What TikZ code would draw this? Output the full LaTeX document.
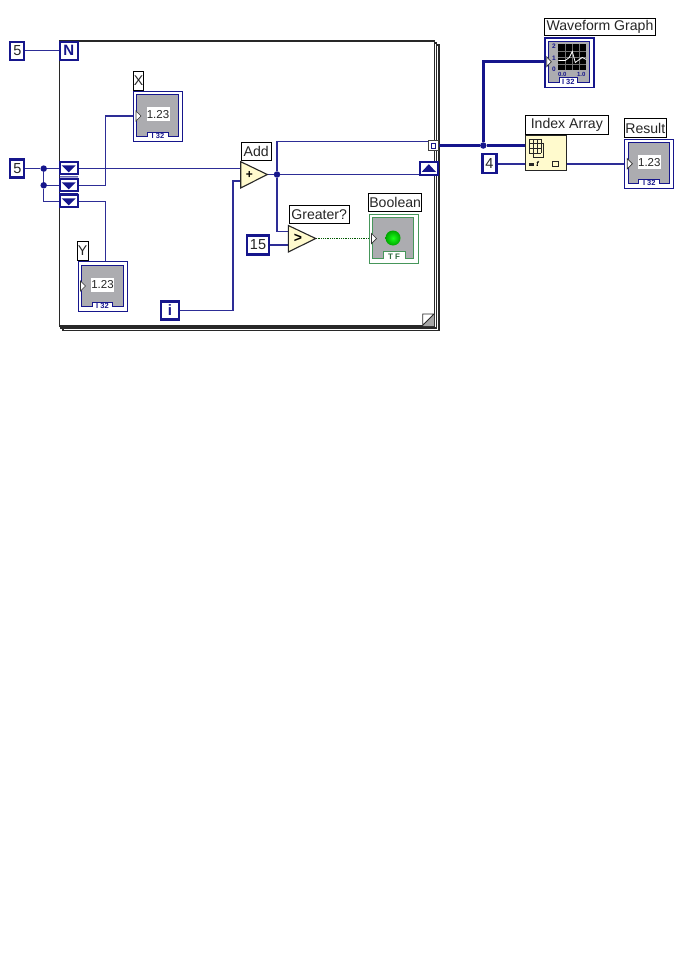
\documentclass[tikz,border=0pt]{standalone}
\usepackage{fontspec}
\setmainfont{Liberation Sans}
\definecolor{navy}{RGB}{22,22,140}
\definecolor{wirec}{RGB}{45,45,150}
\definecolor{grayf}{RGB}{172,172,176}
\definecolor{greenb}{RGB}{70,150,90}
\definecolor{pale}{RGB}{255,250,205}
\definecolor{framec}{RGB}{40,40,40}
\tikzset{
  x=1pt,y=-1pt,
  wire/.style={draw=wirec,line width=1.4pt},
  thickwire/.style={draw=navy,line width=2.6pt},
  boolwire/.style={draw=green!35!black,line width=.8pt,densely dotted},
  constbox/.style={draw=navy,line width=2.3pt,fill=white,inner sep=0pt,font=\fontsize{14.5}{14.5}\selectfont,text=black!85},
  labelbox/.style={draw=black,line width=.9pt,fill=white,inner sep=0pt,font=\fontsize{14.1}{14.1}\selectfont,text=black!85},
  tunnelbox/.style={draw=navy,line width=2.3pt,fill=white,inner sep=0pt,minimum width=18pt,minimum height=12pt},
  junction/.style={circle,fill=navy,inner sep=0pt,minimum size=6.5pt},
  small/.style={inner sep=0pt,font=\fontsize{11.5}{11.5}\selectfont,text=black!85},
  tiny/.style={inner sep=0pt,font=\bfseries\fontsize{7.5}{7.5}\selectfont,text=navy},
  termtip/.style={draw=black!80,fill=white,line width=.7pt},
}
% name, x, y
\newcommand\numindic[4][navy]{%
 \begin{scope}[shift={(#3,#4)}]
  \node[draw=#1,line width=1.1pt,fill=white,inner sep=0pt,minimum width=49pt,minimum height=49.5pt,anchor=north west] (#2) at (0,0) {};
  \fill[grayf,draw=#1,line width=1pt] (3.7,4) -- (45.5,4) -- (45.5,45) -- (35.3,45) -- (35.3,41) -- (14.6,41) -- (14.6,45) -- (3.7,45) -- cycle;
  \node[small,fill=white,minimum width=23pt,minimum height=14pt] (#2txt) at (25,23.5) {1.23};
  \draw[termtip] (3,20) -- (8,25) -- (3,30) -- cycle;
  \node[tiny] (#2typ) at (25,44.5) {I 32};
 \end{scope}}
\begin{document}
\begin{tikzpicture}
\useasboundingbox (0,0) rectangle (682,971);
\fill[white] (0,0) rectangle (682,971);
% loop frame
\draw[framec,fill=white,line width=1.1pt] (63,45) rectangle (439,330.5);
\draw[framec,fill=white,line width=1.1pt] (61,43) rectangle (436.7,328);
\node[draw=framec,line width=1.3pt,fill=white,inner sep=0pt,minimum width=375.3pt,minimum height=285pt,anchor=north west] (loop) at (58.7,40.3) {};
\fill[black!35] (434,314) -- (434,326) -- (422.7,326) -- cycle;
\draw[framec,line width=.9pt] (422.7,325.3) -- (422.7,314) -- (434,314) (422.7,325.3) -- (434,314);
% junctions and named bends
\node[junction] (ja) at (43.7,168.6) {};
\node[junction] (jb) at (43.7,185.3) {};
\coordinate (jc) at (43.7,201.3);
\node[junction] (jd) at (277,174.5) {};
\node[junction] (je) at (483.3,145.5) {};
\coordinate (xbend) at (105.3,0);
\coordinate (ibend) at (233,0);
\coordinate (tunin) at (428.3,141.3);
\coordinate (addtip) at (267.3,174.5);
\coordinate (addia) at (241,168.6);
\coordinate (addib) at (241,181);
\coordinate (gttip) at (315.7,238.5);
\coordinate (gtia) at (288.5,231.7);
\coordinate (gtib) at (288.5,245);
\coordinate (iain) at (525.5,145.5);
\coordinate (iaout) at (566.5,163.8);
\coordinate (iaidx) at (525.5,163.8);
\coordinate (wiin) at (546.3,61.7);
\coordinate (xiin) at (136,116);
\coordinate (yitop) at (105.3,261);
\coordinate (riin) at (627.3,163.8);
\coordinate (biin) at (371.5,238.5);
\coordinate (srin) at (420,174.5);
% constants and loop terminals
\node[constbox,minimum width=14pt,minimum height=18pt] (cfive) at (17.3,50.7) {5};
\node[constbox,minimum width=18pt,minimum height=18pt,font=\bfseries\fontsize{15}{15}\selectfont,text=navy] (N) at (68.7,50.7) {N};
\node[constbox,minimum width=14pt,minimum height=18pt] (cinit) at (17.3,168.6) {5};
\node[constbox,minimum width=18pt,minimum height=18pt,font=\bfseries\fontsize{15}{15}\selectfont,text=navy] (iter) at (170,310.5) {i};
\node[constbox,minimum width=22pt,minimum height=19pt] (cfifteen) at (258,245) {15};
\node[constbox,minimum width=14pt,minimum height=19pt] (cfour) at (489.5,163.8) {4};
% wires
\draw[wire] (cfive.east) -- (N.west);
\draw[wire] (cinit.east) -- (ja);
\draw[wire] (ja) -- (jb) -- (jc) -- (59,201.3);
\draw[wire] (ja) -- (59,168.6);
\draw[wire] (jb) -- (59,185.3);
\draw[wire] (78,168.6) -- (addia);
\draw[wire] (78,185.3) -| (xbend |- xiin) -- (xiin);
\draw[wire] (78,201.3) -| (yitop);
\draw[wire] (iter.east) -| (ibend |- addib) -- (addib);
\draw[wire] (addtip) -- (jd) -- (srin);
\draw[wire] (jd) |- (tunin);
\draw[wire] (jd) |- (gtia);
\draw[wire] (cfifteen.east) -- (gtib);
\draw[boolwire] (gttip) -- (biin);
\draw[thickwire] (438,145.5) -- (je) -- (iain);
\draw[thickwire] (je) |- (wiin);
\draw[wire] (cfour.east) -- (iaidx);
\draw[wire] (iaout) -- (riin);
% shift registers
\node[tunnelbox] (sa) at (68.7,168.3) {};
\node[tunnelbox] (sb) at (68.7,185.3) {};
\node[tunnelbox] (sc) at (68.7,201.3) {};
\fill[navy] (59,176.3) rectangle (78,177.3) (59,193) rectangle (78,194);
\foreach \n in {sa,sb,sc}{\fill[navy] ([xshift=-7pt,yshift=3pt]\n.center) -- ([xshift=7pt,yshift=3pt]\n.center) -- ([yshift=-4pt]\n.center) -- cycle;}
\node[tunnelbox,minimum height=13pt,anchor=center] (sr) at (428.8,168.4) {};
\fill[navy] ([xshift=-7pt,yshift=-3.4pt]sr.center) -- ([xshift=7pt,yshift=-3.4pt]sr.center) -- ([yshift=4.2pt]sr.center) -- cycle;
\node[draw=black!75,line width=1pt,fill=white,inner sep=0pt,minimum width=10pt,minimum height=10pt] (tun) at (433.3,145.5) {};
\draw[navy,line width=.9pt] ([xshift=-1.7pt,yshift=-2.5pt]tun.center) rectangle ([xshift=1.7pt,yshift=2.5pt]tun.center);
% add / greater
\fill[pale,draw=black!85,line width=1.1pt] (240.7,161.7) -- (addtip) -- (240.7,188) -- cycle;
\node[inner sep=0pt,font=\bfseries\fontsize{12}{12}\selectfont] (addg) at (249.5,175) {+};
\node[labelbox,minimum width=30pt,minimum height=18pt] (addl) at (256.2,151) {Add};
\fill[pale,draw=black!85,line width=1.1pt] (288.3,225.5) -- (gttip) -- (288.3,252) -- cycle;
\node[inner sep=0pt,font=\bfseries\fontsize{14}{14}\selectfont] (gtg) at (298,238.5) {>};
\node[labelbox,minimum width=60.5pt,minimum height=18pt] (gtl) at (319.2,214.5) {Greater?};
% indicators
\node[labelbox,minimum width=10.5pt,minimum height=19pt] (xl) at (138.5,80.7) {X};
\numindic{xi}{133}{91}
\node[labelbox,minimum width=10.5pt,minimum height=19pt] (yl) at (82.7,250.7) {Y};
\numindic{yi}{77.5}{261}
\node[labelbox,minimum width=42pt,minimum height=19pt] (rl) at (645.3,128.2) {Result};
\numindic{ri}{624.3}{138.8}
% boolean
\node[labelbox,minimum width=53pt,minimum height=18pt] (bl) at (395.2,202.8) {Boolean};
\begin{scope}[shift={(368.5,213.5)}]
 \node[draw=greenb,line width=1.2pt,fill=white,inner sep=0pt,minimum width=49pt,minimum height=49pt,anchor=north west] (bi) at (0,0) {};
 \fill[grayf,draw=greenb,line width=1pt] (4,4) -- (45,4) -- (45,45) -- (37,45) -- (37,38) -- (15,38) -- (15,45) -- (4,45) -- cycle;
 \shade[inner color=green!90!white,outer color=green!65!black] (24.5,24.5) circle (7.5pt);
 \draw[termtip] (3,20) -- (8,25) -- (3,30) -- cycle;
 \node[inner sep=0pt,font=\bfseries\fontsize{8}{8}\selectfont,text=greenb!70!black] (btyp) at (25.5,43.5) {T F};
\end{scope}
% waveform graph
\node[labelbox,minimum width=111pt,minimum height=17.5pt] (wl) at (600,27.2) {Waveform Graph};
\begin{scope}[shift={(544.3,37.5)}]
 \node[draw=navy,line width=1.2pt,fill=white,inner sep=0pt,minimum width=49pt,minimum height=49.5pt,anchor=north west] (wi) at (0,0) {};
 \fill[grayf,draw=navy,line width=1pt] (4,4) -- (45,4) -- (45,45) -- (33,45) -- (33,40) -- (15,40) -- (15,45) -- (4,45) -- cycle;
 \fill[black] (14,7) rectangle (42,33);
 \foreach \gx in {21,28,35}{\draw[black!55,line width=.5pt] (\gx,7) -- (\gx,33);}
 \foreach \gy in {13.5,20,26.5}{\draw[black!55,line width=.5pt] (14,\gy) -- (42,\gy);}
 \draw[white,line width=.8pt] (14,23) -- (21,23) -- (25,20) -- (28,14) -- (31,25) -- (35,22) -- (38,20) -- (42,22);
 \node[inner sep=0pt,font=\bfseries\fontsize{6.5}{6.5}\selectfont,text=navy] (wy2) at (9.5,9) {2};
 \node[inner sep=0pt,font=\bfseries\fontsize{6.5}{6.5}\selectfont,text=navy] (wy1) at (9.5,21) {1};
 \node[inner sep=0pt,font=\bfseries\fontsize{6.5}{6.5}\selectfont,text=navy] (wy0) at (9.5,32) {0};
 \node[inner sep=0pt,font=\bfseries\fontsize{6}{6}\selectfont,text=navy] (wxa) at (18,37) {0.0};
 \node[inner sep=0pt,font=\bfseries\fontsize{6}{6}\selectfont,text=navy] (wxb) at (37,37) {1.0};
 \node[tiny] (wtyp) at (24,44.5) {I 32};
 \draw[termtip] (2.5,19.5) -- (7,24.2) -- (2.5,29) -- cycle;
\end{scope}
% index array
\node[labelbox,minimum width=83pt,minimum height=19pt] (ial) at (566.8,124.5) {Index Array};
\node[draw=black!85,line width=1pt,fill=pale,inner sep=0pt,minimum width=41.5pt,minimum height=35pt] (ia) at (546,152.5) {};
\foreach \gx in {529,533,537,541}{\draw[black!85,line width=.7pt] (\gx,139) -- (\gx,153);}
\foreach \gy in {139,143.7,148.4,153}{\draw[black!85,line width=.7pt] (529,\gy) -- (541,\gy);}
\draw[black!85,line width=.7pt] (541,143) -- (543,143) -- (543,157) -- (533,157) -- (533,153);
\fill[black!85] (529,163) rectangle (534,166);
\node[inner sep=0pt,font=\bfseries\fontsize{7}{7}\selectfont] (iai) at (538,163.5) {.\!\!\textit{f}};
\node[draw=black!85,line width=.8pt,inner sep=0pt,minimum size=5.5pt] (iao) at (555.5,163.8) {};
\end{tikzpicture}
\end{document}
